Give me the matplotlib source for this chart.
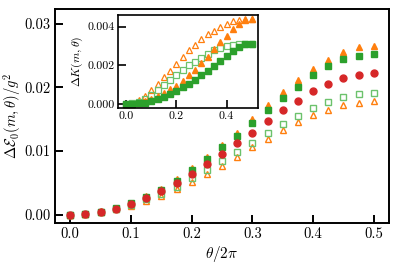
import numpy as np
import matplotlib
matplotlib.use("Agg")
import matplotlib.pyplot as plt

plt.rcParams['font.family'] = 'serif'
plt.rcParams['font.serif'] = ['cmr10']
plt.rcParams['mathtext.fontset'] = 'cm'
plt.rcParams['axes.formatter.use_mathtext'] = True

# theta / 2pi
theta = [0.0, 0.025, 0.05, 0.075, 0.1, 0.125, 0.15, 0.175, 0.2, 0.225, 0.25,
         0.275, 0.3, 0.325, 0.35, 0.375, 0.4, 0.425, 0.45, 0.475, 0.5]

# main panel: Delta E_0 / g^2
tri_filled = [0, 0.00017, 0.0005, 0.0010, 0.0019, 0.0029, 0.0041, 0.0056, 0.0073, 0.0091, 0.0110,
              0.0129, 0.0150, 0.0172, 0.0193, 0.0212, 0.0229, 0.0243, 0.0256, 0.0263, 0.0265]
sq_filled = [0, 0.00016, 0.00049, 0.00098, 0.0018, 0.0028, 0.0039, 0.0053, 0.0070, 0.0087, 0.0106,
             0.0124, 0.0144, 0.0164, 0.0183, 0.0201, 0.0219, 0.0233, 0.0244, 0.0250, 0.0253]
circ = [0, 0.00016, 0.00047, 0.00094, 0.0017, 0.0026, 0.0037, 0.0050, 0.0064, 0.0079, 0.0095,
        0.0112, 0.0129, 0.0147, 0.0164, 0.0179, 0.0194, 0.0206, 0.0214, 0.0220, 0.0222]
sq_open = [0, 0.00015, 0.00044, 0.00088, 0.0015, 0.0024, 0.0033, 0.0044, 0.0057, 0.0070, 0.0084,
           0.0098, 0.0113, 0.0128, 0.0142, 0.0155, 0.0168, 0.0177, 0.0185, 0.0189, 0.0191]
tri_open = [0, 0.00014, 0.00042, 0.00084, 0.0014, 0.0022, 0.0030, 0.0040, 0.0052, 0.0064, 0.0077,
            0.0091, 0.0107, 0.0119, 0.0133, 0.0145, 0.0156, 0.0165, 0.0172, 0.0176, 0.0178]

# inset: Delta K
k_tri_open = [0, 0.00007, 0.0002, 0.0004, 0.00071, 0.00106, 0.00139, 0.0017, 0.00206, 0.00244, 0.00277,
              0.00305, 0.00334, 0.0036, 0.00379, 0.004, 0.00412, 0.00426, 0.00435, 0.0044, 0.0044]
k_sq_open = [0, 0.00004, 0.00013, 0.00028, 0.00048, 0.00073, 0.001, 0.00123, 0.00149, 0.00175, 0.00201,
             0.00218, 0.0024, 0.00258, 0.00279, 0.00291, 0.003, 0.00305, 0.0031, 0.00312, 0.00312]
k_tri_filled = [0, 0.00003, 0.00007, 0.00015, 0.00026, 0.00042, 0.00057, 0.00076, 0.00095, 0.0012, 0.00149,
                0.00175, 0.0021, 0.00244, 0.00284, 0.00318, 0.00353, 0.00388, 0.00414, 0.00435, 0.0044]
k_sq_filled = [0, 0.00002, 0.00004, 0.00008, 0.00014, 0.00024, 0.00036, 0.00054, 0.00069, 0.00088, 0.00106,
               0.00123, 0.00149, 0.00171, 0.00196, 0.00223, 0.00248, 0.00274, 0.00296, 0.00308, 0.0031]

orange = '#ff7f0e'
green = '#2ca02c'
lgreen = '#6cc26c'
red = '#d62728'

fig = plt.figure(figsize=(3.99, 2.66), dpi=100)
ax = fig.add_axes([0.138, 0.162, 0.837, 0.804])

ms = 5
ax.plot(theta, tri_open, '^', ms=ms, mfc='none', mec=orange, mew=1.0, ls='none')
ax.plot(theta, sq_open, 's', ms=ms, mfc='none', mec=lgreen, mew=1.0, ls='none')
ax.plot(theta, tri_filled, '^', ms=ms, color=orange, ls='none')
ax.plot(theta, sq_filled, 's', ms=ms, color=green, ls='none')
ax.plot(theta, circ, 'o', ms=ms, color=red, ls='none')

ax.set_xlim(-0.025, 0.525)
ax.set_ylim(-0.0013, 0.0323)
ax.set_xticks([0.0, 0.1, 0.2, 0.3, 0.4, 0.5])
ax.set_xticklabels(['0.0', '0.1', '0.2', '0.3', '0.4', '0.5'])
ax.set_yticks([0.0, 0.01, 0.02, 0.03])
ax.set_yticklabels(['0.00', '0.01', '0.02', '0.03'])
ax.tick_params(direction='in', length=6, width=1.4, labelsize=10.5)
for s in ax.spines.values():
    s.set_linewidth(1.4)
ax.set_xlabel(r'$\theta/2\pi$', fontsize=11, labelpad=2)
ax.set_ylabel(r'$\Delta\mathcal{E}_0(m,\theta)/g^2$', fontsize=10.5, labelpad=1)

axi = fig.add_axes([0.296, 0.594, 0.351, 0.35])
ms2 = 4
axi.plot(theta, k_tri_open, '^', ms=ms2, mfc='none', mec=orange, mew=0.9, ls='none')
axi.plot(theta, k_sq_open, 's', ms=ms2, mfc='none', mec=lgreen, mew=0.9, ls='none')
axi.plot(theta, k_tri_filled, '^', ms=ms2, color=orange, ls='none')
axi.plot(theta, k_sq_filled, 's', ms=ms2, color=green, ls='none')
axi.set_xlim(-0.032, 0.526)
axi.set_ylim(-0.0002, 0.0046)
axi.set_xticks([0.0, 0.2, 0.4])
axi.set_xticklabels(['0.0', '0.2', '0.4'])
axi.set_yticks([0.0, 0.002, 0.004])
axi.set_yticklabels(['0.000', '0.002', '0.004'])
axi.tick_params(direction='in', length=5.5, width=1.2, labelsize=8.5, pad=2.5)
for s in axi.spines.values():
    s.set_linewidth(1.2)
axi.set_ylabel(r'$\Delta K(m,\theta)$', fontsize=8.5, labelpad=2)

fig.savefig('out.png', dpi=100)
